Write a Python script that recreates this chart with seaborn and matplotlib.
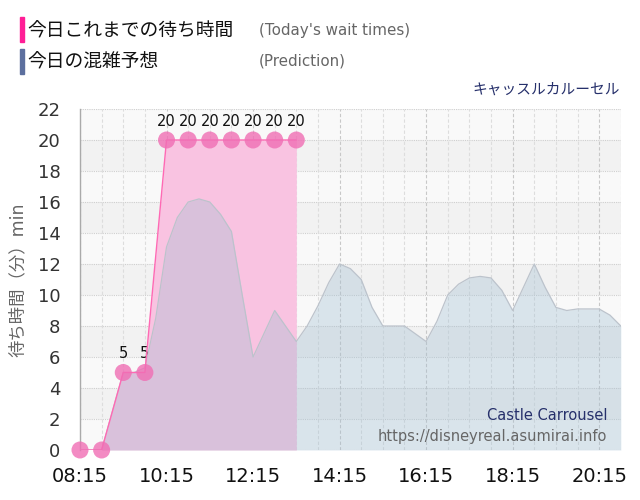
import numpy as np
import pandas as pd
import matplotlib
matplotlib.use("Agg")
import matplotlib.pyplot as plt
import seaborn as sns

#%% dados
# eixo x em passos de 15 min a partir de 08:15
rotulos_x = ["08:15", "10:15", "12:15", "14:15", "16:15", "18:15", "20:15"]
pos_rotulos_x = [0, 8, 16, 24, 32, 40, 48]

previsao = [0, 0, 0, 2.5, 5, 5, 5.3, 8.5, 13.1, 15, 16, 16.2, 16, 15.2, 14.1, 10,
            6, 7.5, 9, 8, 7, 8, 9.3, 10.8, 12, 11.7, 11, 9.2, 8, 8, 8, 7.5, 7,
            8.3, 10, 10.7, 11.1, 11.2, 11.1, 10.3, 9, 10.5, 12, 10.5, 9.2, 9,
            9.1, 9.1, 9.1, 8.7, 8]
idx_previsao = list(range(len(previsao)))

espera_idx = [0, 2, 4, 6, 8, 10, 12, 14, 16, 18, 20]
espera = [0, 0, 5, 5, 20, 20, 20, 20, 20, 20, 20]

df_prev = pd.DataFrame({"idx": idx_previsao, "valor": previsao})
df_esp = pd.DataFrame({"idx": espera_idx, "valor": espera})

#%% estilo
sns.set_theme(style="white")
plt.rcParams["font.family"] = ["DejaVu Sans", "Noto Sans CJK JP"]

fig = plt.figure(figsize=(6.4, 5.0), dpi=100)
ax = fig.add_axes([0.125, 0.1, 0.845, 0.682])

# faixas de fundo
for i, y0 in enumerate(range(0, 22, 2)):
    cor = "#f9f9f9" if i % 2 == 0 else "#f2f2f2"
    ax.axhspan(y0, y0 + 2, color=cor, zorder=0, lw=0)
for y in range(0, 23, 2):
    ax.axhline(y, color="#cfcfcf", lw=0.8, ls=(0, (1, 1)), zorder=1)
for x in range(0, 51, 2):
    cor = "#c8c8c8" if x % 8 == 0 else "#dddddd"
    ax.axvline(x, color=cor, lw=0.8, ls=(0, (3, 2)), zorder=1)

# tempos de hoje (área)
ax.fill_between(df_esp["idx"], df_esp["valor"], color="#f9c3e1", zorder=2, lw=0)

# previsão por cima, semitransparente
ax.fill_between(df_prev["idx"], df_prev["valor"], color="#a0bed2", alpha=0.35, zorder=3, lw=0)
sns.lineplot(data=df_prev, x="idx", y="valor", color="#bcc3cc", lw=0.9, ax=ax, zorder=4)

# linha e pontos
sns.lineplot(data=df_esp, x="idx", y="valor", color="#ff69b4", lw=1.0, ax=ax, zorder=5)
sns.scatterplot(data=df_esp, x="idx", y="valor", color="#f06eb4", s=150, alpha=0.8,
                edgecolor="none", ax=ax, zorder=6, clip_on=False)
for xi, v in zip(espera_idx, espera):
    if v > 0:
        ax.annotate(str(v), (xi, v), xytext=(0, 8), textcoords="offset points",
                    ha="center", va="bottom", fontsize=10.5, color="#111111")

ax.set_xlim(0, 50)
ax.set_ylim(0, 22)
ax.set_yticks(range(0, 23, 2))
ax.set_xticks(pos_rotulos_x)
ax.set_xticklabels(rotulos_x)
ax.tick_params(axis="y", labelsize=13, labelcolor="#333333", length=8, color="#dddddd", pad=6)
ax.tick_params(axis="x", labelsize=14, labelcolor="#111111", length=12, color="#dddddd", pad=0)
ax.set_xlabel("")
ax.set_ylabel("待ち時間（分）min", fontsize=12.5, color="#666666", labelpad=8)
for lado in ["top", "right", "bottom"]:
    ax.spines[lado].set_visible(False)
ax.spines["left"].set_color("#aaaaaa")
ax.spines["left"].set_linewidth(1)

# textos no gráfico
ax.text(0.975, 0.1, "Castle Carrousel", transform=ax.transAxes, ha="right",
        va="center", fontsize=10.5, color="#26306b", zorder=7)
ax.text(0.975, 0.04, "https://disneyreal.asumirai.info", transform=ax.transAxes,
        ha="right", va="center", fontsize=10.5, color="#666666", zorder=7)

# legenda e título
fig.patches.append(plt.Rectangle((20 / 640, 1 - 42 / 500), 4 / 640, 25 / 500,
                                 transform=fig.transFigure, color="#ff1e96"))
fig.patches.append(plt.Rectangle((20 / 640, 1 - 74 / 500), 4 / 640, 25 / 500,
                                 transform=fig.transFigure, color="#5c6f9e"))
fig.text(27 / 640, 1 - 31 / 500, "今日これまでの待ち時間", fontsize=13.5,
         color="#111111", va="center")
fig.text(27 / 640, 1 - 62 / 500, "今日の混雑予想", fontsize=13.5,
         color="#111111", va="center")
fig.text(259 / 640, 1 - 31 / 500, "(Today's wait times)", fontsize=10.9,
         color="#666666", va="center")
fig.text(259 / 640, 1 - 61 / 500, "(Prediction)", fontsize=10.9,
         color="#666666", va="center")
fig.text(620 / 640, 1 - 89 / 500, "キャッスルカルーセル", fontsize=10.6,
         color="#26306b", va="center", ha="right")

fig.savefig("out.png", dpi=100)
